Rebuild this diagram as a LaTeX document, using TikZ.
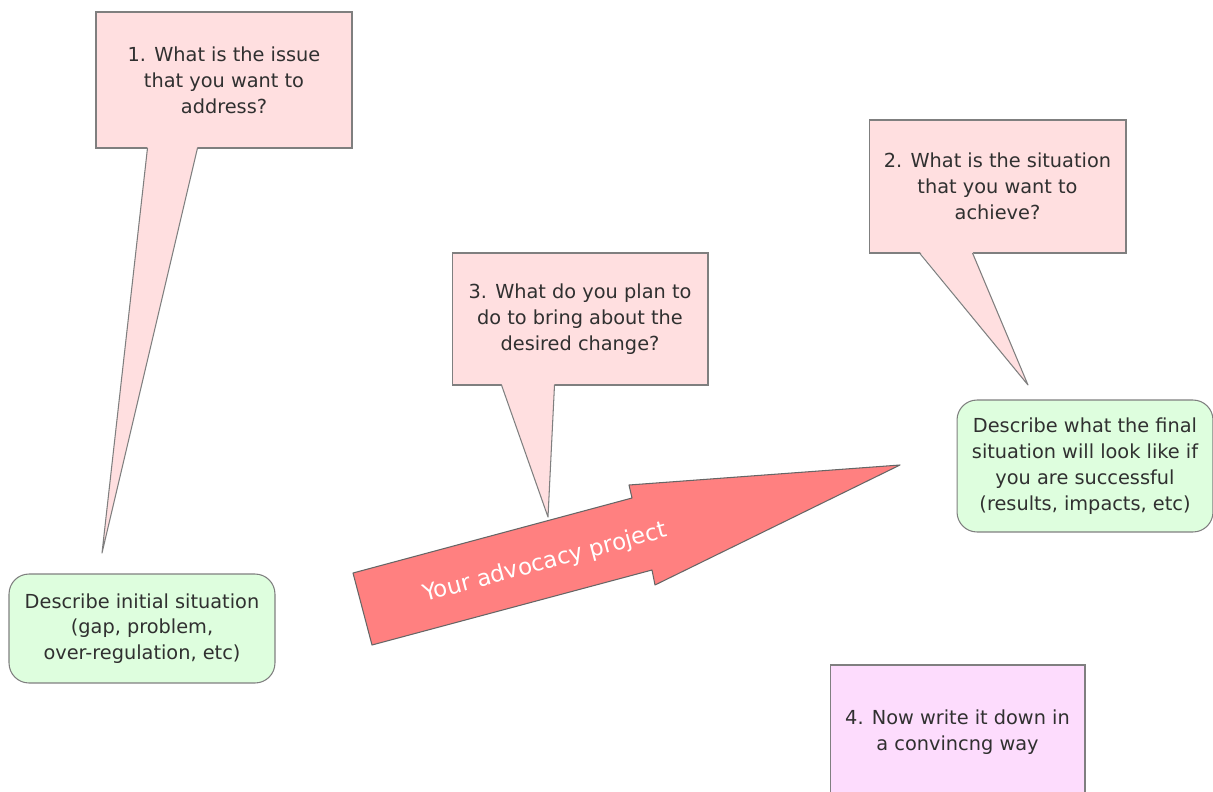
\documentclass[tikz,border=0pt]{standalone}
\usepackage{fontspec}
\setmainfont{DejaVu Sans}
\usetikzlibrary{calc}

\definecolor{qpink}{HTML}{FFDFE0}
\definecolor{sgreen}{HTML}{DEFEDE}
\definecolor{wviolet}{HTML}{FDDCFD}
\definecolor{arrowred}{HTML}{FF8080}
\definecolor{linegray}{HTML}{7F7F7F}
\definecolor{txtgray}{HTML}{303030}

\begin{document}
\begin{tikzpicture}[x=0.02cm,y=-0.02cm,
  every node/.style={font=\fontsize{11}{14.7}\selectfont, text=txtgray, align=center},
  question/.style={draw=linegray, fill=qpink, line width=0.6pt, minimum width=5.12cm, minimum height=2.66cm},
  situation/.style={draw=linegray, fill=sgreen, line width=0.6pt, rounded corners=0.4cm},
  tail/.style={fill=qpink},
  tailside/.style={draw=linegray, line width=0.6pt, line join=round}]
\useasboundingbox (0,0) rectangle (1213,791);
\clip (0,0) rectangle (1213,791);

\node[question, minimum height=2.72cm] (q1) at (224,80) {1. What is the issue\\that you want to\\address?};
\node[question, minimum width=5.14cm] (q2) at (997.5,186.5) {2. What is the situation\\that you want to\\achieve?};
\node[question, minimum height=2.64cm] (q3) at (580,319) {3. What do you plan to\\do to bring about the\\desired change?};

\node[situation, minimum width=5.32cm, minimum height=2.18cm] (start) at (142,628.5) {Describe initial situation\\(gap, problem,\\over-regulation, etc)};
\node[situation, minimum width=5.12cm, minimum height=2.64cm] (goal) at (1085,466) {Describe what the final\\situation will look like if\\you are successful\\(results, impacts, etc)};

\node[draw=linegray, fill=wviolet, line width=0.6pt, minimum width=5.1cm, minimum height=2.68cm] (write) at (957.5,732) {4. Now write it down in\\a convincng way};

% callout tails
\coordinate (t1) at (102,553);
\coordinate (t2) at (1028,385);
\coordinate (t3) at (548,517);

\path[tail] ($(q1.south west)+(52,-2)$) -- (t1) -- ($(q1.south west)+(102,-2)$) -- cycle;
\path[tailside] ($(q1.south west)+(52,-0.5)$) -- (t1) -- ($(q1.south west)+(102,-0.5)$);
\path[tail] ($(q2.south west)+(51,-2)$) -- (t2) -- ($(q2.south west)+(104,-2)$) -- cycle;
\path[tailside] ($(q2.south west)+(51,-0.5)$) -- (t2) -- ($(q2.south west)+(104,-0.5)$);
\path[tail] ($(q3.south west)+(50,-2)$) -- (t3) -- ($(q3.south west)+(103,-2)$) -- cycle;
\path[tailside] ($(q3.south west)+(50,-0.5)$) -- (t3) -- ($(q3.south west)+(103,-0.5)$);

% the project arrow
\path[draw=linegray!80!black, fill=arrowred, line width=0.6pt, line join=round]
  (353,573) -- (632,498) -- (629,485) -- (900,465) -- (655,585) -- (652,570) -- (372,645) -- cycle;
\node[rotate=15, text=white, font=\fontsize{13}{16}\selectfont] (project) at (545,563) {Your advocacy project};
\end{tikzpicture}
\end{document}
